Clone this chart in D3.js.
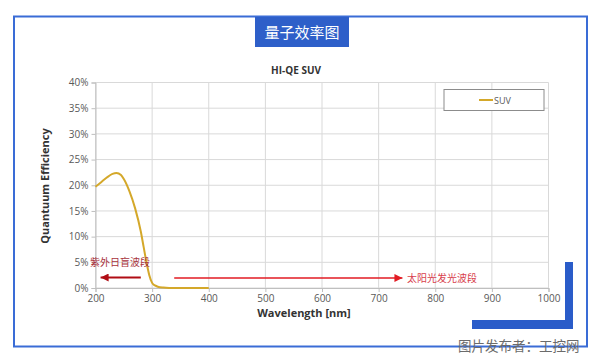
<!DOCTYPE html>
<html>
<head>
<meta charset="utf-8">
<script src="https://cdn.jsdelivr.net/npm/d3@7"></script>
<style>
  body { margin: 0; background: #fff; }
  svg { display: block; font-family: "Open Sans", "Noto Sans", sans-serif; }
</style>
</head>
<body>
<svg id="chart" width="600" height="359"></svg>
<script>
// wavelength (nm) and quantum efficiency (%)
const wavelengths = [200, 210, 220, 230, 237, 245, 250, 260, 270, 280, 285, 290, 295, 300, 305, 310, 320, 330, 350, 400];
const qeValues    = [19.7, 20.6, 21.5, 22.2, 22.4, 22.0, 21.2, 18.8, 15.5, 11.0, 8.0, 5.0, 2.5, 1.0, 0.5, 0.25, 0.08, 0.02, 0, 0];
const xTicks = [200, 300, 400, 500, 600, 700, 800, 900, 1000];
const yTicks = [0, 5, 10, 15, 20, 25, 30, 35, 40];
const seriesName = "SUV";

const svg = d3.select("#chart");
const plotLeft = 95.5, plotRight = 548.5, plotTop = 82.5, plotBottom = 288;

const x = d3.scaleLinear().domain([200, 1000]).range([plotLeft, plotRight]);
const y = d3.scaleLinear().domain([0, 40]).range([plotBottom, plotTop]);

/* outer frame */
svg.append("rect")
    .attr("x", 14).attr("y", 16.5).attr("width", 573).attr("height", 330)
    .attr("fill", "none").attr("stroke", "#3a6cd6").attr("stroke-width", 2);

/* heading box */
svg.append("rect")
    .attr("x", 255).attr("y", 17).attr("width", 94).attr("height", 30)
    .attr("fill", "#2e5fc9");
svg.append("text")
    .attr("x", 302).attr("y", 38)
    .attr("text-anchor", "middle")
    .attr("fill", "#fff")
    .attr("style", "font-family: 'Noto Sans CJK SC'; font-size: 15px;")
    .text("量子效率图");

/* grid */
const grid = svg.append("g").attr("stroke", "#d9d9d9").attr("stroke-width", 1);
grid.selectAll(".v").data(xTicks).enter().append("line")
    .attr("x1", d => x(d)).attr("x2", d => x(d))
    .attr("y1", plotTop).attr("y2", plotBottom);
grid.selectAll(".h").data(yTicks).enter().append("line")
    .attr("x1", plotLeft).attr("x2", plotRight)
    .attr("y1", d => y(d)).attr("y2", d => y(d));

/* axes */
const xAxis = svg.append("g")
    .attr("transform", `translate(0,${plotBottom})`)
    .call(d3.axisBottom(x).tickValues(xTicks).tickFormat(d3.format("d")).tickSize(4).tickPadding(3));
const yAxis = svg.append("g")
    .attr("transform", `translate(${plotLeft},0)`)
    .call(d3.axisLeft(y).tickValues(yTicks).tickFormat(d => d + "%").tickSize(4).tickPadding(3));
[xAxis, yAxis].forEach(a => {
  a.selectAll("path, line").attr("stroke", "#bfbfbf");
  a.selectAll("text").attr("fill", "#595959").style("font-size", "10px").style("font-family", "'Open Sans'");
});

/* titles */
svg.append("text")
    .attr("x", 296).attr("y", 74)
    .attr("text-anchor", "middle")
    .attr("style", "font-size: 10px; font-weight: bold; fill: #333;")
    .text("HI-QE SUV");
svg.append("text")
    .attr("x", 304).attr("y", 317)
    .attr("text-anchor", "middle")
    .attr("style", "font-size: 11px; font-weight: bold; fill: #333;")
    .text("Wavelength [nm]");
svg.append("text")
    .attr("transform", "translate(49,186) rotate(-90)")
    .attr("text-anchor", "middle")
    .attr("style", "font-size: 11px; font-weight: bold; fill: #333;")
    .text("Quantuum Efficiency");

/* series */
const points = wavelengths.map((w, i) => [w, qeValues[i]]);
svg.append("path")
    .datum(points)
    .attr("fill", "none")
    .attr("stroke", "#d4a82a")
    .attr("stroke-width", 2)
    .attr("d", d3.line().x(d => x(d[0])).y(d => y(d[1])).curve(d3.curveMonotoneX));

/* legend */
svg.append("rect")
    .attr("x", 444).attr("y", 89.5).attr("width", 100).attr("height", 21)
    .attr("fill", "#fff").attr("stroke", "#8c8c8c").attr("stroke-width", 1);
svg.append("line")
    .attr("x1", 479).attr("x2", 493).attr("y1", 100).attr("y2", 100)
    .attr("stroke", "#d4a82a").attr("stroke-width", 2);
svg.append("text")
    .attr("x", 494).attr("y", 103.5)
    .attr("style", "font-size: 9px; fill: #595959;")
    .text(seriesName);

/* band annotations */
const defs = svg.append("defs");
[["arrDark", "#b00d14"], ["arrRed", "#e21b23"]].forEach(([id, c]) => {
  defs.append("marker")
      .attr("id", id).attr("viewBox", "0 0 10 10")
      .attr("refX", 10).attr("refY", 5)
      .attr("markerWidth", 12).attr("markerHeight", 8)
      .attr("markerUnits", "userSpaceOnUse")
      .attr("orient", "auto")
    .append("path").attr("d", "M0,0L10,5L0,10Z").attr("fill", c);
});
svg.append("line")
    .attr("x1", x(280)).attr("x2", x(209)).attr("y1", 277.5).attr("y2", 277.5)
    .attr("stroke", "#b00d14").attr("stroke-width", 2)
    .attr("marker-end", "url(#arrDark)");
svg.append("text")
    .attr("x", 90).attr("y", 266)
    .attr("style", "font-family: 'Noto Sans CJK SC'; font-size: 10px; fill: #a8323c;")
    .text("紫外日盲波段");
svg.append("line")
    .attr("x1", x(339)).attr("x2", x(742)).attr("y1", 278).attr("y2", 278)
    .attr("stroke", "#e21b23").attr("stroke-width", 1.5)
    .attr("marker-end", "url(#arrRed)");
svg.append("text")
    .attr("x", 407).attr("y", 282)
    .attr("style", "font-family: 'Noto Sans CJK SC'; font-size: 10px; fill: #d8404c;")
    .text("太阳光发光波段");

/* corner decoration */
svg.append("rect").attr("x", 565).attr("y", 262).attr("width", 8).attr("height", 67).attr("fill", "#2a5cc9");
svg.append("rect").attr("x", 472).attr("y", 320).attr("width", 101).attr("height", 9).attr("fill", "#2a5cc9");

/* watermark */
svg.append("text")
    .attr("x", 458).attr("y", 351)
    .attr("style", "font-family: 'Noto Sans CJK SC'; font-size: 13.5px; fill: #6b6b6b;")
    .text("图片发布者：工控网");
</script>
</body>
</html>
